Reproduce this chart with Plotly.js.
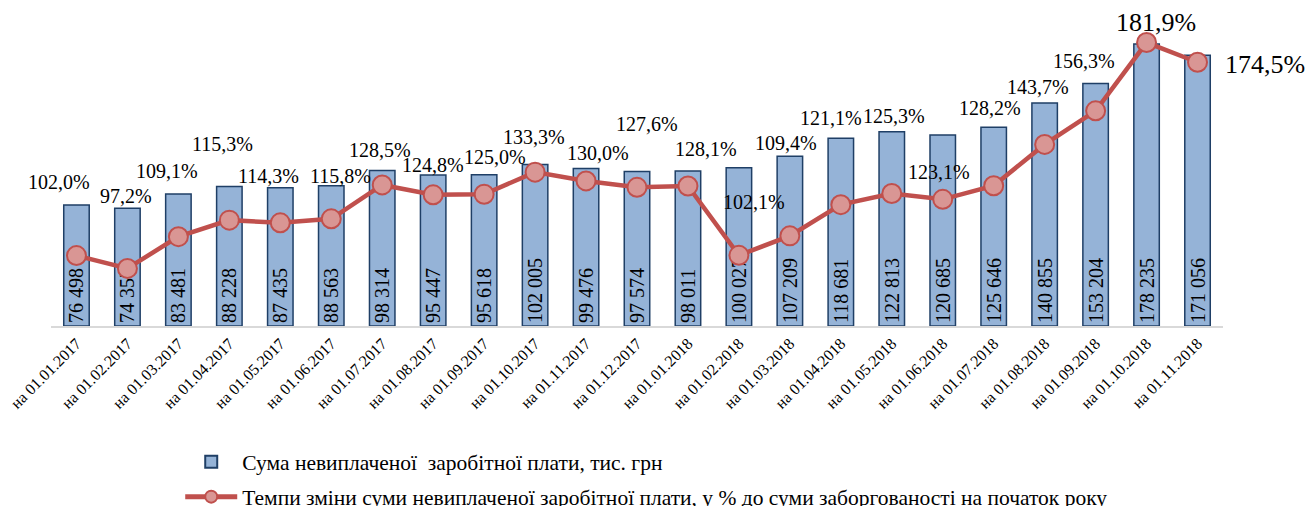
<!DOCTYPE html>
<html>
<head>
<meta charset="utf-8">
<script src="https://cdn.plot.ly/plotly-3.0.1.min.js"></script>
<style>html,body{margin:0;padding:0;background:#fff;}#chart{width:1306px;height:506px;}</style>
</head>
<body>
<div id="chart"></div>
<script>
// ---- data ----
var categories = ["на 01.01.2017","на 01.02.2017","на 01.03.2017","на 01.04.2017","на 01.05.2017","на 01.06.2017",
  "на 01.07.2017","на 01.08.2017","на 01.09.2017","на 01.10.2017","на 01.11.2017","на 01.12.2017",
  "на 01.01.2018","на 01.02.2018","на 01.03.2018","на 01.04.2018","на 01.05.2018","на 01.06.2018",
  "на 01.07.2018","на 01.08.2018","на 01.09.2018","на 01.10.2018","на 01.11.2018"];
var debtSum = [76498,74357,83481,88228,87435,88563,98314,95447,95618,102005,99476,97574,
  98011,100027,107209,118681,122813,120685,125646,140855,153204,178235,171056];
var changePct = [102.0,97.2,109.1,115.3,114.3,115.8,128.5,124.8,125.0,133.3,130.0,127.6,
  128.1,102.1,109.4,121.1,125.3,123.1,128.2,143.7,156.3,181.9,174.5];
var seriesNames = ["Сума невиплаченої  заробітної плати, тис. грн",
  "Темпи зміни суми невиплаченої заробітної плати, у % до суми заборгованості на початок року"];

// ---- label placement (pixel offsets of the % labels from their points) ----
var pctLabelDx = [-17,-1,-11,-7,-12,9,-2,0,11,-1,12,10,18,15,-4,-10,2,-4,-4,-7,-12,9,67];
var pctLabelDy = [74,72,66,76,47,43,35,30,37,35,28,63,37,53,93,87,77,27,78,57,50,20,-2];
var pctLabelSize = [20,20,20,20,20,20,20,20,20,20,20,20,20,20,20,20,20,20,20,20,20,26,26];

var FONT = "Liberation Serif";

function fmtThousands(v){ return String(v).replace(/\B(?=(\d{3})+(?!\d))/g, " "); }
function fmtPct(v){ return v.toFixed(1).replace(".", ",") + "%"; }

var barTrace = {
  type: "bar",
  name: seriesNames[0],
  x: categories,
  y: debtSum,
  width: 0.5,
  marker: {color: "#95B3D7", line: {color: "#1F3F66", width: 1.5}},
  text: debtSum.map(fmtThousands),
  textposition: "inside",
  insidetextanchor: "start",
  textangle: -90,
  constraintext: "none",
  textfont: {family: FONT, size: 20, color: "#000"},
  legendgroup: "a",
  hoverinfo: "skip"
};

var lineTrace = {
  type: "scatter",
  mode: "lines+markers",
  name: seriesNames[1],
  x: categories,
  y: changePct,
  yaxis: "y2",
  line: {color: "#C0504D", width: 4.5},
  marker: {size: 19, color: "#D99694", line: {color: "#C0504D", width: 2}},
  legendgroup: "b",
  cliponaxis: false,
  hoverinfo: "skip"
};

var annotations = changePct.map(function(v, i){
  return {
    x: categories[i], y: v, xref: "x", yref: "y2",
    text: fmtPct(v), showarrow: false,
    xshift: pctLabelDx[i], yshift: pctLabelDy[i],
    font: {family: FONT, size: pctLabelSize[i], color: "#000"}
  };
});

var layout = {
  width: 1306, height: 506,
  margin: {l: 51, r: 83, t: 10, b: 180, autoexpand: false},
  paper_bgcolor: "#fff", plot_bgcolor: "#fff",
  showlegend: true,
  font: {family: FONT, color: "#000"},
  xaxis: {
    type: "category",
    range: [-0.5, 22.5],
    showline: true, linecolor: "#D9D9D9", linewidth: 2,
    showgrid: false, zeroline: false, ticks: "",
    tickangle: -45,
    tickfont: {family: FONT, size: 16, color: "#000"},
    automargin: false,
    fixedrange: true
  },
  yaxis: {range: [0, 199700], visible: false, showgrid: false, zeroline: false},
  yaxis2: {range: [75.6, 194.1], overlaying: "y", visible: false, showgrid: false, zeroline: false},
  legend: {
    orientation: "v",
    xref: "container", yref: "container",
    x: 0.138, y: 0.128, xanchor: "left", yanchor: "top",
    traceorder: "grouped", tracegroupgap: 4,
    itemsizing: "constant", itemwidth: 52,
    font: {family: FONT, size: 21.5, color: "#000"},
    bgcolor: "rgba(0,0,0,0)"
  },
  annotations: annotations,
  bargap: 0.5
};

Plotly.newPlot("chart", [barTrace, lineTrace], layout, {displayModeBar: false, staticPlot: true});
</script>
</body>
</html>
